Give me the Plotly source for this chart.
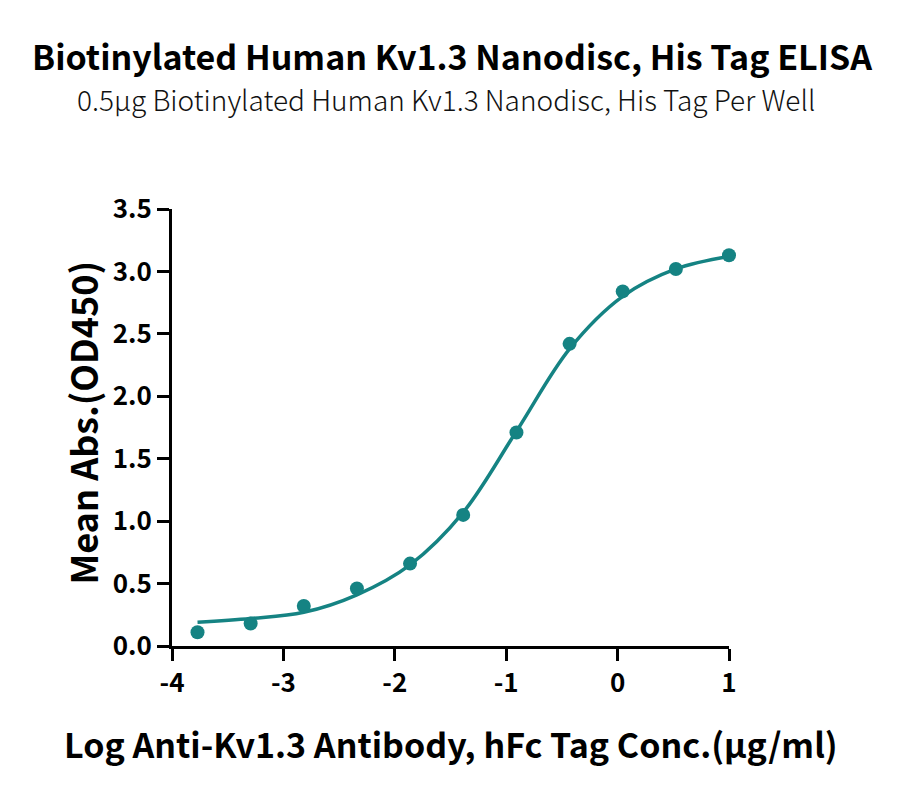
import plotly.graph_objects as go

# Measured points (log concentration, mean OD450)
log_conc = [-3.771, -3.294, -2.817, -2.340, -1.863, -1.386, -0.908, -0.431, 0.046, 0.523, 1.000]
mean_abs = [0.11, 0.18, 0.32, 0.46, 0.66, 1.05, 1.71, 2.42, 2.84, 3.02, 3.13]

# Fitted curve at the same x positions
curve_x = [-3.771, -3.294, -2.817, -2.340, -1.863, -1.386, -0.908, -0.431, 0.046, 0.523, 1.000]
curve_y = [0.19, 0.22, 0.27, 0.41, 0.65, 1.07, 1.72, 2.38, 2.80, 3.02, 3.12]

x_ticks = [-4, -3, -2, -1, 0, 1]
x_tick_labels = ["-4", "-3", "-2", "-1", "0", "1"]
y_ticks = [0.0, 0.5, 1.0, 1.5, 2.0, 2.5, 3.0, 3.5]
y_tick_labels = ["0.0", "0.5", "1.0", "1.5", "2.0", "2.5", "3.0", "3.5"]

title = "Biotinylated Human Kv1.3 Nanodisc, His Tag ELISA"
subtitle = "0.5μg Biotinylated Human Kv1.3 Nanodisc, His Tag Per Well"
x_title = "Log Anti-Kv1.3 Antibody, hFc Tag Conc.(μg/ml)"
y_title = "Mean Abs.(OD450)"

teal = "#158383"
font_fam = "Noto Sans CJK SC"

W, H = 900, 791
L, R, T, B = 172, 171, 209, 145
plot_w = W - L - R
plot_h = H - T - B

def xp(px):
    return (px - L) / plot_w

def yp(py):
    return (H - B - py) / plot_h

fig = go.Figure()
fig.add_trace(go.Scatter(
    x=curve_x, y=curve_y, mode="lines",
    line=dict(color=teal, width=3.5, shape="spline", smoothing=1.0),
    cliponaxis=False, showlegend=False, hoverinfo="skip"))
fig.add_trace(go.Scatter(
    x=log_conc, y=mean_abs, mode="markers",
    marker=dict(color=teal, size=14),
    cliponaxis=False, showlegend=False))

axis_common = dict(
    showline=True, linecolor="black", linewidth=3,
    ticks="outside", ticklen=12, tickwidth=3, tickcolor="black",
    showgrid=False, zeroline=False,
    tickfont=dict(family=font_fam, size=26, color="black", weight="bold"),
)

fig.update_xaxes(range=[-4, 1], tickvals=x_ticks, ticktext=x_tick_labels, **axis_common)
fig.update_yaxes(range=[0, 3.5], tickvals=y_ticks, ticktext=y_tick_labels, **axis_common)

fig.update_layout(
    width=W, height=H,
    margin=dict(l=L, r=R, t=T, b=B),
    paper_bgcolor="white", plot_bgcolor="white",
    annotations=[
        dict(text=title, x=xp(451.5), y=yp(55), xref="paper", yref="paper",
             xanchor="center", yanchor="middle", showarrow=False,
             font=dict(family=font_fam, size=34, color="black", weight="bold")),
        dict(text=subtitle, x=xp(445.5), y=yp(99), xref="paper", yref="paper",
             xanchor="center", yanchor="middle", showarrow=False,
             font=dict(family=font_fam, size=28, color="#111111", weight=300)),
        dict(text=x_title, x=xp(450.5), y=yp(743), xref="paper", yref="paper",
             xanchor="center", yanchor="middle", showarrow=False,
             font=dict(family=font_fam, size=34, color="black", weight="bold")),
        dict(text=y_title, x=xp(81), y=yp(422.5), xref="paper", yref="paper",
             xanchor="center", yanchor="middle", showarrow=False, textangle=-90,
             font=dict(family=font_fam, size=36, color="black", weight="bold")),
    ],
)

fig.write_html("out.html", config={"displayModeBar": False},
               post_script="document.body.style.margin='0';")
